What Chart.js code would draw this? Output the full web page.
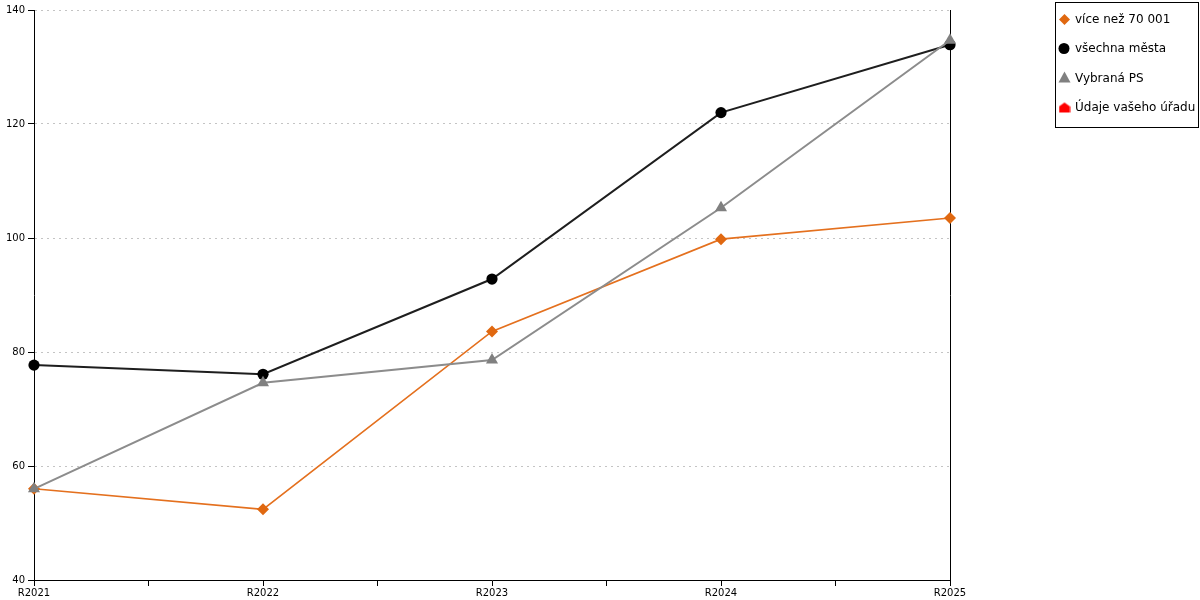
<!DOCTYPE html>
<html>
<head>
<meta charset="utf-8">
<script src="https://cdn.jsdelivr.net/npm/chart.js@4"></script>
<style>
  html, body { margin: 0; padding: 0; background: #fff; }
  #wrap { width: 1200px; height: 600px; position: relative; }
</style>
</head>
<body>
<div id="wrap"><canvas id="c" width="1200" height="600"></canvas></div>
<script>
const categories = ['R2021', 'R2022', 'R2023', 'R2024', 'R2025'];
const seriesNames = ['více než 70 001', 'všechna města', 'Vybraná PS', 'Údaje vašeho úřadu'];
const valuesOver70001 = [56.0, 52.4, 83.6, 99.8, 103.5];
const valuesAllCities = [77.7, 76.1, 92.8, 122.0, 133.9];
const valuesSelectedPS = [56.0, 74.6, 78.6, 105.3, 134.7];
const valuesYourOffice = [null, null, null, null, null];
const yTicks = [40, 60, 80, 100, 120, 140];

const FONT = 'DejaVu Sans';

function toPoints(vals) {
  return categories.map((c, i) => ({ x: i, y: vals[i] }));
}

function houseCanvas(color) {
  const cv = document.createElement('canvas');
  cv.width = 12; cv.height = 12;
  const g = cv.getContext('2d');
  g.fillStyle = color;
  g.beginPath();
  g.moveTo(0.5, 11); g.lineTo(11.5, 11); g.lineTo(11.5, 5); g.lineTo(6, 1); g.lineTo(0.5, 5);
  g.closePath(); g.fill();
  return cv;
}
const houseImg = houseCanvas('#ff0000');

const datasets = [
  { label: seriesNames[0], data: toPoints(valuesOver70001), borderColor: '#e4701e', backgroundColor: '#e06810',
    borderWidth: 1.6, pointStyle: 'rectRot', pointRadius: 6, pointBorderWidth: 0, order: 3, clip: false },
  { label: seriesNames[1], data: toPoints(valuesAllCities), borderColor: '#1e1e1e', backgroundColor: '#000000',
    borderWidth: 2, pointStyle: 'circle', pointRadius: 5.6, pointBorderWidth: 0, order: 2, clip: false },
  { label: seriesNames[2], data: toPoints(valuesSelectedPS), borderColor: '#8c8c8c', backgroundColor: '#808080',
    borderWidth: 2, pointStyle: 'triangle', pointRadius: 7, pointBorderWidth: 0, order: 1, clip: false },
  { label: seriesNames[3], data: toPoints(valuesYourOffice), borderColor: '#ff0000', backgroundColor: '#ff0000',
    borderWidth: 2, pointStyle: houseImg, pointRadius: 5, pointBorderWidth: 0, order: 0, clip: false }
];

const legendBox = {
  id: 'legendBox',
  afterDraw(chart) {
    const ctx = chart.ctx;
    ctx.save();
    ctx.strokeStyle = '#000';
    ctx.lineWidth = 1;
    ctx.strokeRect(1055.5, 2.5, 143, 125);
    ctx.font = '12px "' + FONT + '"';
    ctx.textBaseline = 'middle';
    ctx.textAlign = 'left';
    const ys = [19.5, 48.5, 78, 107.5];
    chart.data.datasets.forEach((ds, i) => {
      const cx = 1064.5, cy = ys[i];
      ctx.fillStyle = ds.backgroundColor;
      ctx.beginPath();
      if (ds.pointStyle === 'rectRot') {
        ctx.moveTo(cx, cy - 5.5); ctx.lineTo(cx + 5.5, cy); ctx.lineTo(cx, cy + 5.5); ctx.lineTo(cx - 5.5, cy); ctx.closePath(); ctx.fill();
      } else if (ds.pointStyle === 'circle') {
        ctx.arc(cx - 0.5, cy, 5.5, 0, Math.PI * 2); ctx.fill();
      } else if (ds.pointStyle === 'triangle') {
        ctx.moveTo(cx, cy - 6.5); ctx.lineTo(cx + 6, cy + 4.5); ctx.lineTo(cx - 6, cy + 4.5); ctx.closePath(); ctx.fill();
      } else {
        ctx.drawImage(ds.pointStyle, cx - 6, cy - 6);
      }
      ctx.fillStyle = '#000';
      ctx.fillText(ds.label, 1075, cy + 0.5);
    });
    ctx.restore();
  }
};

new Chart(document.getElementById('c'), {
  type: 'line',
  data: { datasets },
  options: {
    responsive: false,
    animation: false,
    devicePixelRatio: 1,
    layout: { padding: { top: 10, right: 250, left: 0, bottom: 0 } },
    plugins: { legend: { display: false }, tooltip: { enabled: false } },
    elements: { line: { tension: 0, fill: false } },
    scales: {
      x: {
        type: 'linear', min: 0, max: categories.length - 1,
        afterFit(s) { s.height = 20; },
        ticks: {
          stepSize: 0.5, autoSkip: false, maxRotation: 0, padding: 1,
          color: '#000', font: { family: FONT, size: 10 },
          callback: (v) => Number.isInteger(v) ? categories[v] : ''
        },
        grid: { display: true, drawOnChartArea: false, drawTicks: true, tickLength: 6, tickColor: '#000', tickWidth: 1 },
        border: { display: true, color: '#000', width: 1 }
      },
      y: {
        type: 'linear', position: 'left', min: yTicks[0], max: yTicks[yTicks.length - 1],
        afterFit(s) { s.width = 34; },
        afterBuildTicks(s) { s.ticks = yTicks.map(v => ({ value: v })); },
        ticks: { stepSize: 20, padding: 3, color: '#000', font: { family: FONT, size: 10 } },
        grid: { display: true, drawOnChartArea: true, color: '#c4c4c4', lineWidth: 1,
                drawTicks: true, tickLength: 6, tickColor: '#000', tickWidth: 1, tickBorderDash: [] },
        border: { display: true, color: '#000', width: 1, dash: [2, 4] }
      },
      y2: {
        type: 'linear', position: 'right', min: yTicks[0], max: yTicks[yTicks.length - 1],
        afterFit(s) { s.width = 0; },
        ticks: { display: false },
        grid: { display: false, drawTicks: false },
        border: { display: true, color: '#000', width: 1 }
      }
    }
  },
  plugins: [legendBox]
});
</script>
</body>
</html>
